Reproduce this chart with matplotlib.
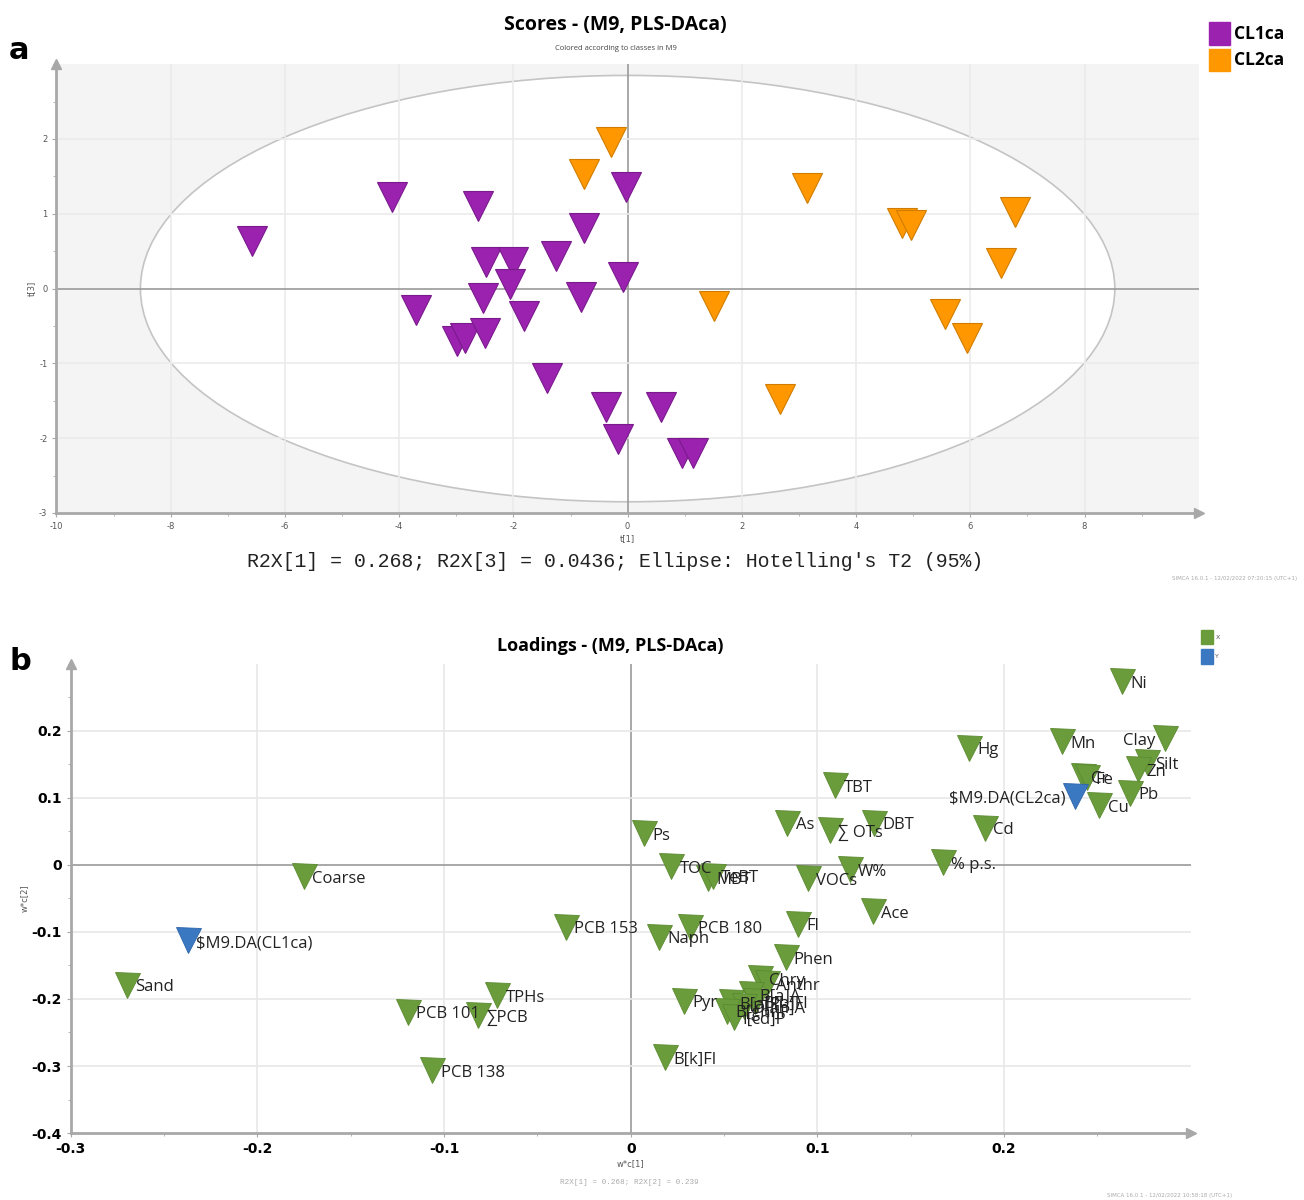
import numpy as np
import matplotlib
matplotlib.use('Agg')
import matplotlib.pyplot as plt
from matplotlib.patches import Ellipse, Rectangle
from matplotlib.ticker import MultipleLocator

plt.rcParams['axes.unicode_minus'] = False

#--scores (t[1], t[3]) per class
cl1_x = [-6.57, -4.13, -2.62, -0.76, -0.03, -1.26, -2.48, -2.01, -2.06, -2.54, -0.08, -0.81,
         -3.71, -1.82, -2.98, -2.84, -2.49, -1.41, -0.38, -0.16, 0.59, 0.95, 1.14]
cl1_y = [0.64, 1.22, 1.10, 0.81, 1.36, 0.44, 0.35, 0.36, 0.06, -0.12, 0.16, -0.11,
         -0.29, -0.36, -0.70, -0.66, -0.59, -1.20, -1.58, -2.01, -1.58, -2.20, -2.20]
cl2_x = [-0.29, -0.76, 3.14, 4.80, 4.97, 6.78, 6.53, 1.52, 5.55, 5.95, 2.67]
cl2_y = [1.96, 1.53, 1.35, 0.88, 0.85, 1.03, 0.34, -0.23, -0.34, -0.66, -1.47]

#--loadings, X block
x_names = ['Ps', 'TOC', 'MBT', 'TeBT', 'As', '\u2211 OTs', 'DBT', 'TBT', 'VOCs', 'W%', '% p.s.',
           'Ace', 'Fl', 'PCB 180', 'Naph', 'Coarse', 'Sand', 'PCB 153', 'TPHs', 'PCB 101',
           '\u2211PCB', 'PCB 138', 'Ni', 'Hg', 'Mn', 'Clay', 'Silt', 'Zn', 'Pb', 'Cr', 'Fe',
           'Cu', 'Cd', 'Phen', 'Pyr', 'B[k]Fl', 'Chry', 'Anthr', 'B[a]A', 'B[b]Fl', 'B[a]P',
           'D[ah]A', 'B[ghi]P', 'I[cd]P']
x_w1 = [0.0071, 0.0218, 0.0414, 0.0440, 0.0838, 0.1066, 0.1305, 0.1096, 0.0948, 0.1173, 0.167,
        0.1298, 0.0895, 0.0317, 0.0150, -0.175, -0.270, -0.0348, -0.0714, -0.1193,
        -0.0819, -0.1062, 0.2629, 0.181, 0.2312, 0.2861, 0.2763, 0.2718, 0.2674, 0.2420, 0.2445,
        0.251, 0.1898, 0.0829, 0.0285, 0.0182, 0.0695, 0.0731, 0.0642, 0.0668, 0.0535,
        0.0606, 0.0517, 0.0553]
x_w2 = [0.047, -0.0015, -0.019, -0.016, 0.063, 0.052, 0.063, 0.119, -0.020, -0.0065, 0.0045,
        -0.069, -0.0876, -0.092, -0.107, -0.0164, -0.1786, -0.092, -0.1945, -0.219,
        -0.2243, -0.306, 0.274, 0.175, 0.185, 0.1896, 0.153, 0.143, 0.108, 0.133, 0.131,
        0.089, 0.0557, -0.1378, -0.2025, -0.2866, -0.169, -0.1766, -0.1925, -0.2025, -0.204,
        -0.21, -0.2175, -0.2264]

#--loadings, Y block
y_names = ['$M9.DA(CL1ca)', '$M9.DA(CL2ca)']
y_w1 = [-0.2372, 0.238]
y_w2 = [-0.1124, 0.1025]

left_labels = ['Clay', '$M9.DA(CL2ca)']

purple, orange = '#9a22ae', '#ff9800'
green, blue = '#6b9c3c', '#3a78c2'
axcol = '#a8a8a8'

fig = plt.figure(figsize=(13.04, 12), dpi=100)

def arrows(ax):
    ax.plot(1, 0, '>', color=axcol, ms=7, transform=ax.transAxes, clip_on=False)
    ax.plot(0, 1, '^', color=axcol, ms=7, transform=ax.transAxes, clip_on=False)
    for s in ['top', 'right']: ax.spines[s].set_visible(False)
    for s in ['left', 'bottom']:
        ax.spines[s].set_color(axcol)
        ax.spines[s].set_linewidth(2)

#--panel a
ax1 = fig.add_axes([0.0433, 0.5725, 0.876, 0.374])
ax1.set_facecolor('#f4f4f4')
ax1.set_xlim(-10, 10)
ax1.set_ylim(-3, 3)
ax1.add_patch(Ellipse((0, 0), 2*8.53, 2*2.85, facecolor='white', edgecolor='#c4c4c4', lw=1.2, zorder=1))
for v in range(-8, 9, 2):
    ax1.axvline(v, color='#9a9a9a' if v == 0 else '#ebebeb', lw=1.2, zorder=2)
for h in range(-2, 3):
    ax1.axhline(h, color='#9a9a9a' if h == 0 else '#ebebeb', lw=1.2, zorder=2)
ax1.plot(cl1_x, cl1_y, 'v', ms=21, color=purple, mec='#7a1a8c', mew=0.8, ls='none', zorder=5)
ax1.plot(cl2_x, cl2_y, 'v', ms=21, color=orange, mec='#d07c00', mew=0.8, ls='none', zorder=5)
ax1.set_xticks(range(-10, 9, 2))
ax1.set_yticks(range(-3, 3))
ax1.xaxis.set_minor_locator(MultipleLocator(1))
ax1.yaxis.set_minor_locator(MultipleLocator(0.5))
ax1.tick_params(which='both', colors=axcol, labelcolor='#555555', labelsize=6, length=3)
ax1.tick_params(which='minor', length=2)
arrows(ax1)
ax1.set_xlabel('t[1]', fontsize=6, color='#555555', labelpad=2)
ax1.set_ylabel('t[3]', fontsize=6, color='#555555', labelpad=2)

fig.text(0.472, 0.979, 'Scores - (M9, PLS-DAca)', ha='center', va='center', fontsize=14,
         fontweight='bold', family='Open Sans')
fig.text(0.472, 0.96, 'Colored according to classes in M9', ha='center', va='center',
         fontsize=5.5, color='#444444', family='Open Sans')
fig.text(0.472, 0.532, "R2X[1] = 0.268; R2X[3] = 0.0436; Ellipse: Hotelling's T2 (95%)",
         ha='center', va='center', fontsize=14.3, family='Liberation Mono', color='#222222')
fig.text(0.995, 0.518, 'SIMCA 16.0.1 - 12/02/2022 07:20:15 (UTC+1)', ha='right', va='center',
         fontsize=4, color='#aaaaaa')
fig.text(0.007, 0.958, 'a', fontsize=22, fontweight='bold', va='center')

for i, (lab, col) in enumerate([('CL1ca', purple), ('CL2ca', orange)]):
    yy = 0.972 - i*0.022
    fig.add_artist(Rectangle((0.927, yy - 0.0095), 0.016, 0.019, color=col, transform=fig.transFigure))
    fig.text(0.946, yy, lab, fontsize=12.5, fontweight='bold', va='center', family='Open Sans')

#--panel b
ax2 = fig.add_axes([0.0542, 0.0558, 0.859, 0.391])
ax2.set_xlim(-0.3, 0.3)
ax2.set_ylim(-0.4, 0.3)
for v in [-0.2, -0.1, 0.0, 0.1, 0.2]:
    ax2.axvline(v, color='#9a9a9a' if v == 0 else '#e8e8e8', lw=1.2, zorder=1)
for h in [-0.3, -0.2, -0.1, 0.0, 0.1, 0.2]:
    ax2.axhline(h, color='#9a9a9a' if h == 0 else '#e8e8e8', lw=1.2, zorder=1)

def put(names, xs, ys, col, ecol):
    for n, x, y in zip(names, xs, ys):
        ax2.plot(x, y, 'v', ms=18, color=col, mec=ecol, mew=0.6, zorder=5)
        if n in left_labels:
            ax2.annotate(n, (x, y), xytext=(-7, -2), textcoords='offset points', ha='right',
                         va='center', fontsize=12, family='Open Sans', color='#222222', zorder=6)
        else:
            ax2.annotate(n, (x, y), xytext=(6, -2), textcoords='offset points', ha='left',
                         va='center', fontsize=12, family='Open Sans', color='#222222', zorder=6)

put(x_names, x_w1, x_w2, green, '#5a8a30')
put(y_names, y_w1, y_w2, blue, '#2d63a8')

ax2.set_xticks([-0.3, -0.2, -0.1, 0.0, 0.1, 0.2])
ax2.set_xticklabels(['-0.3', '-0.2', '-0.1', '0', '0.1', '0.2'])
ax2.set_yticks([-0.4, -0.3, -0.2, -0.1, 0.0, 0.1, 0.2])
ax2.set_yticklabels(['-0.4', '-0.3', '-0.2', '-0.1', '0', '0.1', '0.2'])
ax2.xaxis.set_minor_locator(MultipleLocator(0.05))
ax2.yaxis.set_minor_locator(MultipleLocator(0.05))
ax2.tick_params(which='both', colors=axcol, labelcolor='black', labelsize=10, length=3)
ax2.tick_params(which='minor', length=2)
for t in ax2.get_xticklabels() + ax2.get_yticklabels():
    t.set_fontweight('bold')
arrows(ax2)
ax2.set_xlabel('w*c[1]', fontsize=6, color='#555555', labelpad=2)
ax2.set_ylabel('w*c[2]', fontsize=6, color='#555555', labelpad=2)

fig.text(0.468, 0.462, 'Loadings - (M9, PLS-DAca)', ha='center', va='center', fontsize=13,
         fontweight='bold', family='Open Sans')
fig.text(0.483, 0.015, 'R2X[1] = 0.268; R2X[2] = 0.239', ha='center', va='center',
         fontsize=5.5, color='#aaaaaa', family='Liberation Mono')
fig.text(0.945, 0.004, 'SIMCA 16.0.1 - 12/02/2022 10:58:18 (UTC+1)', ha='right', va='center',
         fontsize=4, color='#aaaaaa')
fig.text(0.007, 0.449, 'b', fontsize=22, fontweight='bold', va='center')

for i, (lab, col) in enumerate([('X', green), ('Y', blue)]):
    yy = 0.469 - i*0.016
    fig.add_artist(Rectangle((0.921, yy - 0.006), 0.009, 0.012, color=col, transform=fig.transFigure))
    fig.text(0.932, yy, lab, fontsize=4.5, va='center', color='#555555')

fig.savefig('out.png', dpi=100)
